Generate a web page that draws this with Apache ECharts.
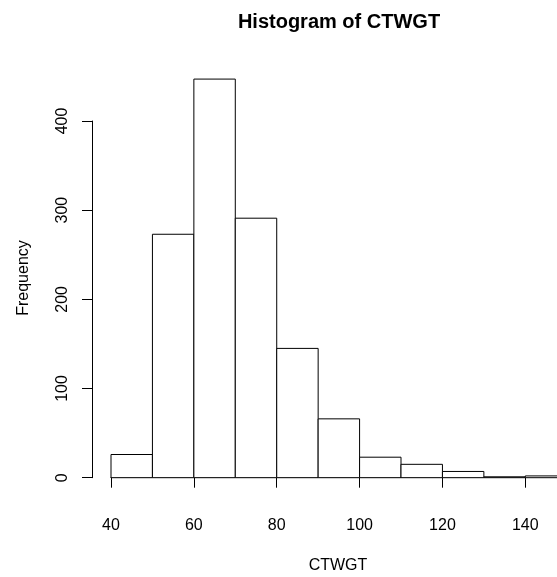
<!DOCTYPE html>
<html>
<head>
<meta charset="utf-8">
<script src="https://cdn.jsdelivr.net/npm/echarts@6/dist/echarts.min.js"></script>
<style>
  html, body { margin: 0; padding: 0; background: #fff; }
  #chart { width: 557px; height: 577px; }
</style>
</head>
<body>
<div id="chart"></div>
<script>
// histogram bins (left edges / right edges) and counts
const binStart = [40, 50, 60, 70, 80, 90, 100, 110, 120, 130, 140];
const binEnd = [50, 60, 70, 80, 90, 100, 110, 120, 130, 140, 150];
const counts = [26, 273, 447, 291, 145, 66, 23, 15, 7, 1, 2];
const xTicks = [40, 60, 80, 100, 120, 140];
const yTicks = [0, 100, 200, 300, 400];

const font = 'Liberation Sans, Arial, sans-serif';

let bins = [];
for (let i = 0; i < counts.length; i++) {
  bins.push([binStart[i], binEnd[i], counts[i]]);
}

const myChart = echarts.init(document.getElementById('chart'), null, { renderer: 'canvas' });
const option = {
  backgroundColor: '#fff',
  animation: false,
  graphic: [
    {
      type: 'text', x: 339, y: 22,
      style: { text: 'Histogram of CTWGT', textAlign: 'center', textVerticalAlign: 'middle',
        font: 'bold 20px ' + font, fill: '#000' }
    },
    {
      type: 'text', x: 338, y: 566,
      style: { text: 'CTWGT', textAlign: 'center', textVerticalAlign: 'middle',
        font: '16px ' + font, fill: '#000' }
    },
    {
      type: 'text', x: 24, y: 278, rotation: Math.PI / 2,
      style: { text: 'Frequency', textAlign: 'center', textVerticalAlign: 'middle',
        font: '16px ' + font, fill: '#000' }
    }
  ],
  grid: { left: 111, right: 31.7, top: 121, bottom: 99.3 },
  xAxis: {
    type: 'value',
    min: 40,
    max: 140,
    interval: 20,
    offset: 16,
    splitLine: { show: false },
    axisLine: { show: true, lineStyle: { color: '#000', width: 1 } },
    axisTick: { show: true, length: 10, lineStyle: { color: '#000' } },
    axisLabel: { margin: 24, fontFamily: font, fontSize: 16, color: '#000',
      formatter: v => xTicks.indexOf(v) >= 0 ? String(v) : '' }
  },
  yAxis: {
    type: 'value',
    min: 0,
    max: 400,
    interval: 100,
    offset: 19,
    splitLine: { show: false },
    axisLine: { show: true, lineStyle: { color: '#000', width: 1 } },
    axisTick: { show: true, length: 10, lineStyle: { color: '#000' } },
    axisLabel: { margin: 21, rotate: 90, fontFamily: font, fontSize: 16, color: '#000',
      formatter: v => yTicks.indexOf(v) >= 0 ? String(v) : '' }
  },
  series: [{
    type: 'custom',
    clip: false,
    data: bins,
    encode: { x: [0, 1], y: 2 },
    renderItem: function (params, api) {
      const p0 = api.coord([api.value(0), 0]);
      const p1 = api.coord([api.value(1), api.value(2)]);
      return {
        type: 'rect',
        shape: { x: p0[0], y: p1[1], width: p1[0] - p0[0], height: p0[1] - p1[1] },
        style: { fill: '#fff', stroke: '#000', lineWidth: 1 }
      };
    }
  }]
};
myChart.setOption(option);
</script>
</body>
</html>
